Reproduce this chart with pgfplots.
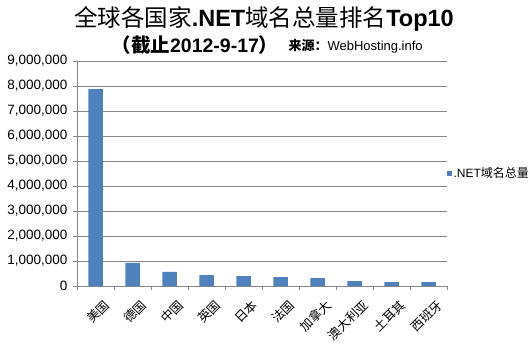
\documentclass[border=0pt]{standalone}
\usepackage{fontspec}
\setmainfont{Liberation Sans}
\newfontfamily\cjk{Noto Sans CJK SC}
\usepackage{pgfplots}
\pgfplotsset{compat=1.18}
\definecolor{barblue}{HTML}{4F81BD}
\definecolor{gridgray}{HTML}{868686}
\begin{document}
\begin{tikzpicture}
\path[use as bounding box] (0pt,0pt) rectangle (530pt,357pt);
\node at (264pt,338pt) {\fontsize{23.5}{26}\selectfont{\cjk 全球各国家}\textbf{.NET}{\cjk 域名总量排名}\textbf{Top10}};
\node[anchor=east] at (282pt,312pt) {\fontsize{19.5}{22}\selectfont{\cjk\bfseries （截止}\textbf{2012-9-17}{\cjk\bfseries ）}};
\node[anchor=west] at (285pt,311pt) {\fontsize{13}{15}\selectfont{\cjk\bfseries 来源：}WebHosting.info};
\begin{axis}[
  at={(77pt,71pt)}, anchor=south west,
  scale only axis, width=370pt, height=225pt,
  ymin=0, ymax=9000000,
  ytick={0,1000000,...,9000000},
  scaled y ticks=false,
  yticklabel style={/pgf/number format/fixed,/pgf/number format/1000 sep={,},/pgf/number format/assume math mode=true,font=\fontsize{13.5}{15}\selectfont, xshift=-2pt},
  xmin=-0.5, xmax=9.5,
  xtick={0,...,9},
  xticklabels={美国,德国,中国,英国,日本,法国,加拿大,澳大利亚,土耳其,西班牙},
  xticklabel style={font=\cjk\fontsize{12.5}{14}\selectfont, rotate=45, anchor=east, xshift=0pt, yshift=-17pt, inner sep=1pt},
  minor xtick={-0.5,0.5,...,9.5},
  major x tick style={draw=none},
  minor tick length=4pt,
  major tick length=4pt,
  tick align=outside,
  tick style={gridgray, line width=0.6pt},
  ymajorgrids, grid style={gridgray, line width=0.6pt},
  axis x line*=bottom, axis y line*=left,
  axis line style={gridgray, line width=0.6pt, -},
  ybar, bar width=14.5pt,
  legend style={at={(1.0,0.5)}, anchor=west, draw=none, fill=none, inner xsep=0pt, font=\fontsize{12}{14}\selectfont, legend cell align=left, /tikz/every even column/.append style={column sep=1pt}},
  legend image code/.code={\fill[barblue] (0pt,-2.2pt) rectangle (4.4pt,2.2pt);},
]
\addplot[fill=barblue, draw=none] coordinates {
(0,7880000) (1,930000) (2,570000) (3,440000) (4,400000)
(5,360000) (6,320000) (7,200000) (8,160000) (9,160000)};
\addlegendentry{.NET{\cjk 域名总量}}
\end{axis}
\end{tikzpicture}
\end{document}
